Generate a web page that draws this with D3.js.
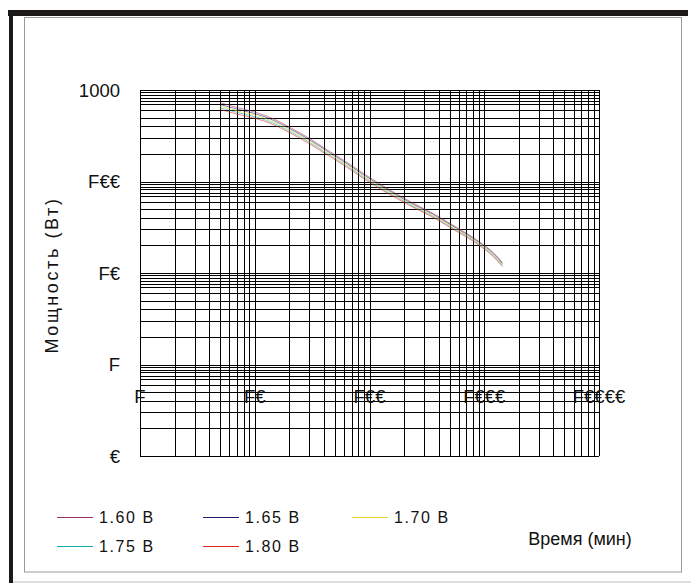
<!DOCTYPE html>
<html><head><meta charset="utf-8">
<script src="https://cdn.jsdelivr.net/npm/d3@7"></script>
<style>html,body{margin:0;padding:0;background:#fff;}svg{display:block;}</style>
</head><body>
<script>
// ---- data ----
const times = [5, 7, 10, 15, 20, 30, 45, 60, 90, 120, 180, 240, 360, 480, 600, 900, 1200, 1440];
const p160 = [725, 644, 575, 476, 394, 295, 213, 170, 121, 96, 71, 58, 44.7, 36.1, 30.6, 22.1, 16.7, 13.0];
const p165 = [695, 618, 553, 459, 381, 285.5, 206.4, 164.7, 117.2, 93.1, 69.0, 56.5, 43.6, 35.2, 29.8, 21.6, 16.3, 12.7];
const p170 = [666, 593, 532, 443, 368, 276, 200, 159.6, 113.6, 90.3, 67.1, 55.0, 42.5, 34.3, 29.1, 21.1, 15.9, 12.4];
const p175 = [638, 569, 512, 427, 355.5, 267, 193.8, 154.7, 110.1, 87.6, 65.2, 53.6, 41.4, 33.4, 28.4, 20.6, 15.5, 12.1];
const p180 = [612, 546, 492, 412, 343, 258, 187.8, 149.9, 106.7, 85.0, 63.4, 52.2, 40.4, 32.6, 27.7, 20.1, 15.1, 11.8];
const seriesNames = ["1.60 В", "1.65 В", "1.70 В", "1.75 В", "1.80 В"];
const seriesColors = ["#993366", "#1c1c6a", "#e6d41e", "#12adb0", "#e3221f"];
const xTickValues = [1, 10, 100, 1000, 10000];
const xTickLabels = ["F", "F€", "F€€", "F€€€", "F€€€€"];
const yTickValues = [1000, 100, 10, 1, 0.1];
const yTickLabels = ["1000", "F€€", "F€", "F", "€"];
const xDecades = [1, 10, 100, 1000];
const xGridMult = [1, 2, 3, 4, 5, 6, 7, 8, 9];
const yDecades = [0.1, 1, 10, 100];
const yGridMult = [1, 2, 3, 4, 5, 6, 7, 7.5, 8.2, 8.8, 9.4];
const yTitle = "Мощность (Вт)";
const xTitle = "Время (мин)";

const W = 691, H = 583;
const svg = d3.select("body").append("svg").attr("width", W).attr("height", H);

// frame
svg.append("rect").attr("x", 8).attr("y", 10).attr("width", 680).attr("height", 6).attr("fill", "#1b1a18");
svg.append("rect").attr("x", 9).attr("y", 10).attr("width", 4).attr("height", 573).attr("fill", "#1b1a18");
svg.append("rect").attr("x", 24.5).attr("y", 17.5).attr("width", 657).attr("height", 554.5)
  .attr("fill", "none").attr("stroke", "#9a9a9a").attr("stroke-width", 1);
svg.append("line").attr("x1", 13).attr("x2", 691).attr("y1", 582).attr("y2", 582)
  .attr("stroke", "#bdbdbd").attr("stroke-width", 1);

const x = d3.scaleLog().domain([1, 10000]).range([140, 599]);
const y = d3.scaleLog().domain([0.1, 1000]).range([456, 90]);

// grid
const g = svg.append("g").attr("shape-rendering", "crispEdges");
const xGrid = [];
xDecades.forEach(d => xGridMult.forEach(m => xGrid.push(d * m)));
xGrid.push(10000);
const yGrid = [];
yDecades.forEach(d => yGridMult.forEach(m => yGrid.push(d * m)));
yGrid.push(1000);
g.selectAll("line.v").data(xGrid).join("line").attr("class", "v")
  .attr("x1", d => Math.round(x(d)) + 0.5).attr("x2", d => Math.round(x(d)) + 0.5)
  .attr("y1", y(1000)).attr("y2", y(0.1))
  .attr("stroke", "#000").attr("stroke-width", 1.2);
g.selectAll("line.h").data(yGrid).join("line").attr("class", "h")
  .attr("y1", d => Math.round(y(d)) + 0.5).attr("y2", d => Math.round(y(d)) + 0.5)
  .attr("x1", x(1)).attr("x2", x(10000))
  .attr("stroke", "#000").attr("stroke-width", 1.2);
// small tick at right edge
g.append("line").attr("x1", x(10000) + 0.5).attr("x2", x(10000) + 0.5)
  .attr("y1", y(1) - 8).attr("y2", y(1)).attr("stroke", "#000").attr("stroke-width", 1.5);

// curves
const allSeries = [p160, p165, p170, p175, p180];
const line = d3.line().x((d, i) => x(times[i])).y(d => y(d)).curve(d3.curveMonotoneX);
svg.append("g").selectAll("path").data(allSeries).join("path")
  .attr("d", d => line(d)).attr("fill", "none")
  .attr("stroke", (d, i) => seriesColors[i]).attr("stroke-width", 1).attr("stroke-opacity", 0.55);

// tick labels
const font = "'Liberation Sans', Arial, sans-serif";
svg.append("g").selectAll("text").data(yTickValues).join("text")
  .attr("x", 120).attr("y", d => y(d)).attr("dy", "0.36em")
  .attr("text-anchor", "end").attr("font-family", font).attr("font-size", 18.5).attr("fill", "#111")
  .text((d, i) => yTickLabels[i]);
svg.append("g").selectAll("text").data(xTickValues).join("text")
  .attr("x", d => x(d)).attr("y", 396).attr("dy", "0.36em")
  .attr("text-anchor", "middle").attr("font-family", font).attr("font-size", 18.5).attr("fill", "#111")
  .text((d, i) => xTickLabels[i]);

// titles
svg.append("text").attr("transform", "translate(58,275) rotate(-90)")
  .attr("text-anchor", "middle").attr("font-family", font).attr("font-size", 18)
  .attr("letter-spacing", 2.6).attr("fill", "#111")
  .text(yTitle);
svg.append("text").attr("x", 580).attr("y", 545).attr("text-anchor", "middle")
  .attr("font-family", font).attr("font-size", 18).attr("fill", "#111").text(xTitle);

// legend
const legX = [57, 203, 352];
const legY = [517, 546];
const leg = svg.append("g");
seriesNames.forEach((name, i) => {
  const col = i % 3, row = Math.floor(i / 3);
  const lx = legX[col], ly = legY[row];
  leg.append("line").attr("x1", lx).attr("x2", lx + 36).attr("y1", ly + 0.5).attr("y2", ly + 0.5)
    .attr("shape-rendering", "crispEdges")
    .attr("stroke", seriesColors[i]).attr("stroke-width", 1);
  leg.append("text").attr("x", lx + 42).attr("y", ly).attr("dy", "0.36em")
    .attr("font-family", font).attr("font-size", 16).attr("letter-spacing", 1.6).attr("fill", "#111")
    .text(name);
});
</script>
</body></html>
